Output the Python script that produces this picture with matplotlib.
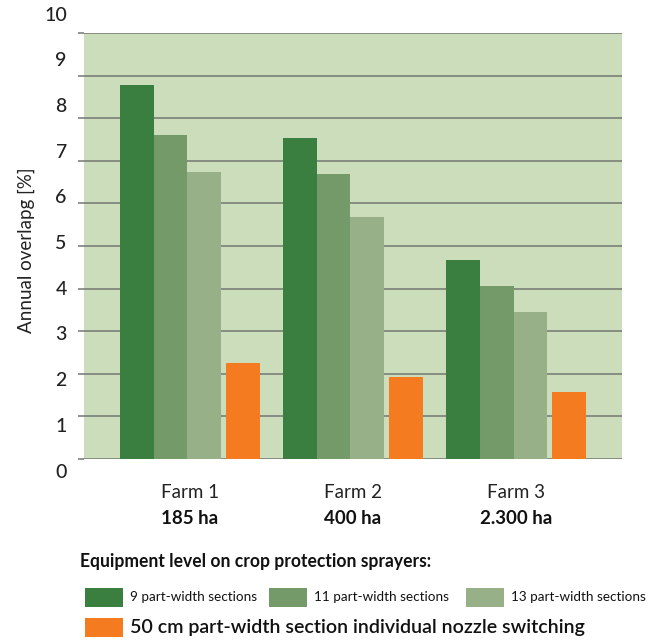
import matplotlib.pyplot as plt
import matplotlib.transforms as mtransforms
from matplotlib.patches import Rectangle
import numpy as np

plt.rcParams["font.family"] = ["Lato", "DejaVu Sans"]

farms = ["Farm 1", "Farm 2", "Farm 3"]
areas = ["185 ha", "400 ha", "2.300 ha"]
series_names = ["9 part-width sections", "11 part-width sections",
                "13 part-width sections",
                "50 cm part-width section individual nozzle switching"]
values = [
    [8.78, 7.54, 4.67],   # 9 sections
    [7.61, 6.69, 4.06],   # 11 sections
    [6.74, 5.68, 3.45],   # 13 sections
    [2.25, 1.92, 1.57],   # individual nozzle
]
colors = ["#3a7f3f", "#739a68", "#97b088", "#f47b20"]
yticks = [0, 1, 2, 3, 4, 5, 6, 7, 8, 9, 10]

fig = plt.figure(figsize=(6.62, 6.41), dpi=100)
renderer = fig.canvas.get_renderer()


def fit(t, width_px):
    # shrink a text until it is no wider than in the original
    for _ in range(30):
        if t.get_window_extent(renderer).width <= width_px:
            break
        t.set_fontsize(t.get_fontsize() * 0.97)


ax = fig.add_axes([0.1269, 0.2839, 0.8127, 0.6646])
ax.set_facecolor("#ccddbb")

x = np.arange(len(farms))
w = 0.207
offsets = [-0.4295, -0.2225, -0.0155, 0.2225]
for i in range(4):
    ax.bar(x + offsets[i], values[i], width=w, align="edge",
           color=colors[i], zorder=3, linewidth=0)

ax.set_xlim(-0.65, 2.65)
ax.set_ylim(0, 10)
ax.set_yticks(yticks)
ax.set_yticklabels([])
ax.set_xticks([])
ax.grid(axis="y", color="#737873", linewidth=1.1, zorder=1)
ax.tick_params(axis="y", length=4, color="#737873", width=1.1)
for s in ax.spines.values():
    s.set_visible(False)

# y tick labels (placed slightly off the gridlines, as in the original)
for v in yticks:
    ax.text(-0.032, (45.7 * v - 13) / 426, str(v), transform=ax.transAxes,
            ha="right", va="center", fontsize=14, fontweight="medium",
            color="#222222")

ax.text(-0.108, 0.49, "Annual overlapg [%]", transform=ax.transAxes,
        rotation=90, ha="center", va="center", fontsize=13.5, color="#222222")

trans = mtransforms.blended_transform_factory(ax.transData, ax.transAxes)
for i in range(len(farms)):
    ax.text(x[i], -0.0775, farms[i], transform=trans, ha="center",
            va="center", fontsize=13.5, color="#222222")
    ax.text(x[i], -0.1385, areas[i], transform=trans, ha="center",
            va="center", fontsize=13.5, fontweight="bold", color="#111111")

# legend
title = fig.text(80 / 662, 1 - 562 / 641,
                 "Equipment level on crop protection sprayers:",
                 ha="left", va="center", fontsize=13, fontweight="bold",
                 color="#111111")
fit(title, 352)
leg_x = [85, 269, 466, 85]
leg_y = [597, 597, 597, 627]
leg_w = [128, 136, 135, 457]
for i in range(4):
    fig.patches.append(Rectangle((leg_x[i] / 662, 1 - (leg_y[i] + 9.5) / 641),
                                 38 / 662, 19 / 641, facecolor=colors[i],
                                 transform=fig.transFigure, figure=fig))
    big = i == 3
    t = fig.text((leg_x[i] + 45) / 662, 1 - leg_y[i] / 641, series_names[i],
                 ha="left", va="center", fontsize=15 if big else 11,
                 fontweight="semibold" if big else "normal", color="#111111")
    fit(t, leg_w[i])

fig.savefig("out.png", dpi=100)
